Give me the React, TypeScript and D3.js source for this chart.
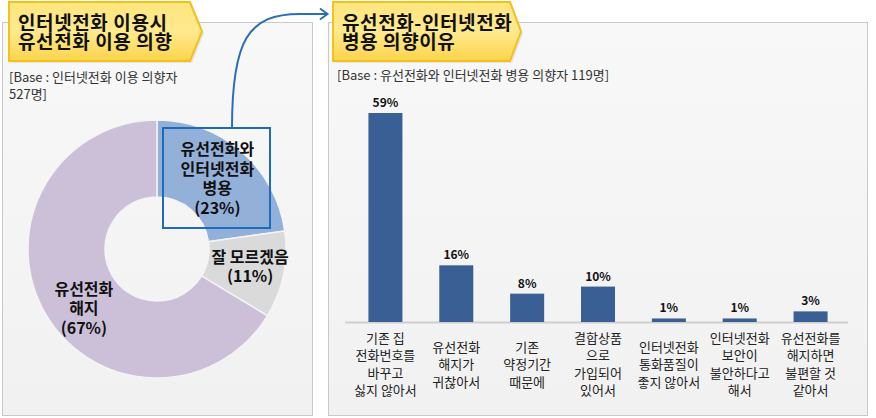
import React from 'react';
import * as d3 from 'd3';

const W = 876;
const H = 418;

// Donut data
const donutCategories = ['유선전화와 인터넷전화 병용', '잘 모르겠음', '유선전화 해지'];
const donutValues = [23, 11, 67];
const donutLabelLines = [
  ['유선전화와', '인터넷전화', '병용', '(23%)'],
  ['잘 모르겠음', '(11%)'],
  ['유선전화', '해지', '(67%)'],
];
const donutColors = ['#93b0d9', '#dadada', '#cbc0d8'];

// Bar data
const barCategories = ['c1', 'c2', 'c3', 'c4', 'c5', 'c6', 'c7'];
const barLabelLines = [
  ['기존 집', '전화번호를', '바꾸고', '싫지 않아서'],
  ['유선전화', '해지가', '귀찮아서'],
  ['기존', '약정기간', '때문에'],
  ['결합상품', '으로', '가입되어', '있어서'],
  ['인터넷전화', '통화품질이', '좋지 않아서'],
  ['인터넷전화', '보안이', '불안하다고', '해서'],
  ['유선전화를', '해지하면', '불편할 것', '같아서'],
];
const barValues = [59, 16, 8, 10, 1, 1, 3];

const leftTitle = ['인터넷전화 이용시', '유선전화 이용 의향'];
const rightTitle = ['유선전화-인터넷전화', '병용 의향이유'];
const leftBase = ['[Base : 인터넷전화 이용 의향자', '527명]'];
const rightBase = '[Base : 유선전화와 인터넷전화 병용 의향자 119명]';

const KR = '"Noto Sans CJK KR", "Noto Sans", sans-serif';

function Banner({ x0, x1, tip, y0, y1, lines }: { x0: number; x1: number; tip: number; y0: number; y1: number; lines: string[] }) {
  const ym = (y0 + y1) / 2;
  const d = `M${x0},${y0} H${x1} L${tip},${ym} L${x1},${y1} H${x0} Z`;
  return (
    <g>
      <path d={d} transform="translate(2,2)" fill="#000" opacity={0.08} />
      <path d={d} fill="url(#bannerGrad)" stroke="#f2c21a" strokeWidth={2} />
      {lines.map((t, i) => (
        <text key={i} x={x0 + 9} y={y0 + 28 + i * 19} fontFamily={KR} fontSize={19} fontWeight="bold" fill="#111" letterSpacing={0.6}>
          {t}
        </text>
      ))}
    </g>
  );
}

export default function App() {
  // Donut
  const cx = 157;
  const cy = 249;
  const pie = d3.pie<number>().sort(null).value((d) => d)(donutValues);
  const arc = d3.arc<d3.PieArcDatum<number>>().innerRadius(52).outerRadius(129);
  const labelArc = d3.arc<d3.PieArcDatum<number>>().innerRadius(92).outerRadius(92);
  const labelOffsets = [[0, 0], [3, 0], [7, 15]];
  const lh = 19.5;

  // Bars
  const x = d3.scaleBand<string>().domain(barCategories).range([350, 846]).paddingInner(0.52).paddingOuter(0.26);
  const y = d3.scaleLinear().domain([0, 59]).range([322, 113]);
  const catLh = 17.4;

  return (
    <svg width={W} height={H} style={{ position: 'absolute', left: 0, top: 0, background: '#fff' }}>
      <defs>
        <linearGradient id="bannerGrad" x1="0" y1="0" x2="0" y2="1">
          <stop offset="0" stopColor="#fde57e" />
          <stop offset="0.5" stopColor="#fee98e" />
          <stop offset="1" stopColor="#fbd44a" />
        </linearGradient>
        <linearGradient id="panelGrad" x1="0" y1="0" x2="0" y2="1">
          <stop offset="0" stopColor="#f8f8f8" />
          <stop offset="1" stopColor="#f1f1f1" />
        </linearGradient>
      </defs>

      {/* Panels */}
      <rect x={2.5} y={22.5} width={310} height={393} fill="url(#panelGrad)" stroke="#c9c9c9" />
      <rect x={328.5} y={22.5} width={539} height={393} fill="url(#panelGrad)" stroke="#c9c9c9" />

      {/* Base texts */}
      {leftBase.map((t, i) => (
        <text key={i} x={9} y={82 + i * 17} fontFamily={KR} fontSize={13} fill="#333">{t}</text>
      ))}
      <text x={337} y={80} fontFamily={KR} fontSize={13} fill="#333">{rightBase}</text>

      {/* Donut */}
      <g transform={`translate(${cx},${cy})`}>
        {pie.map((p, i) => (
          <path key={donutCategories[i]} d={arc(p) || ''} fill={donutColors[i]} stroke="#f4f4f4" strokeWidth={1.5} />
        ))}
        {pie.map((p, i) => {
          const [lx, ly] = labelArc.centroid(p);
          const lines = donutLabelLines[i];
          const n = lines.length;
          return (
            <text key={'l' + i} textAnchor="middle" fontFamily={KR} fontSize={16} fontWeight="bold" fill="#111">
              {lines.map((t, j) => (
                <tspan key={j} x={lx + labelOffsets[i][0]} y={ly + labelOffsets[i][1] + (j - (n - 1) / 2) * lh + 5}>
                  {t}
                </tspan>
              ))}
            </text>
          );
        })}
      </g>

      {/* Highlight box and connector */}
      <rect x={163} y={128} width={107} height={100} fill="none" stroke="#1c6cbb" strokeWidth={2} />
      <path d="M232,128 C232,40 248,14 300,14 L327,14" fill="none" stroke="#2a6eb5" strokeWidth={2} />
      <path d="M320,8.5 L327.5,14 L320,19.5" fill="none" stroke="#2a6eb5" strokeWidth={2} />

      {/* Bars */}
      <line x1={345} x2={848} y1={322.5} y2={322.5} stroke="#cfcfcf" strokeWidth={2} />
      {barValues.map((v, i) => {
        const bx = x(barCategories[i]) as number;
        return (
          <g key={barCategories[i]}>
            <rect x={bx} y={y(v)} width={x.bandwidth()} height={y(0) - y(v)} fill="#3a5f94" />
            <text x={bx + x.bandwidth() / 2} y={y(v) - 6} textAnchor="middle" fontFamily={KR} fontSize={12} fontWeight="bold" fill="#111">
              {v}%
            </text>
          </g>
        );
      })}
      {barLabelLines.map((lines, i) => {
        const cxb = (x(barCategories[i]) as number) + x.bandwidth() / 2;
        const start = 343 + ((4 - lines.length) * catLh) / 2;
        return (
          <text key={'c' + i} textAnchor="middle" fontFamily={KR} fontSize={13} fill="#222">
            {lines.map((t, j) => (
              <tspan key={j} x={cxb} y={start + j * catLh}>{t}</tspan>
            ))}
          </text>
        );
      })}

      {/* Banners */}
      <Banner x0={9} x1={190} tip={202} y0={2} y1={61} lines={leftTitle} />
      <Banner x0={333} x1={510} tip={521} y0={2} y1={61} lines={rightTitle} />
    </svg>
  );
}
